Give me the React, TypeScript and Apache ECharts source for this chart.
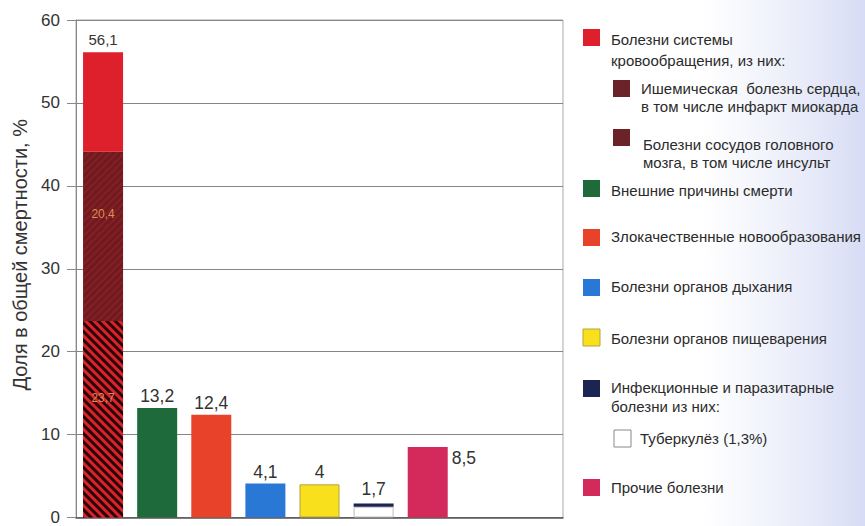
import React, { useEffect, useRef } from "react";
import * as echarts from "echarts";

// ---- data ----
const categories = [
  "Болезни системы кровообращения",
  "Внешние причины смерти",
  "Злокачественные новообразования",
  "Болезни органов дыхания",
  "Болезни органов пищеварения",
  "Инфекционные и паразитарные болезни",
  "Прочие болезни",
  "",
  "",
];
const totals = [56.1, 13.2, 12.4, 4.1, 4.0, 1.7, 8.5];
const ischemic = 23.7; // Ишемическая болезнь сердца
const cerebro = 20.4; // Болезни сосудов головного мозга
const tuberculosis = 1.3; // Туберкулёз
const yTicks = [0, 10, 20, 30, 40, 50, 60];

const legendLabels = [
  "Болезни системы\nкровообращения, из них:",
  "Ишемическая  болезнь сердца,\nв том числе инфаркт миокарда",
  "Болезни сосудов головного\nмозга, в том числе инсульт",
  "Внешние причины смерти",
  "Злокачественные новообразования",
  "Болезни органов дыхания",
  "Болезни органов пищеварения",
  "Инфекционные и паразитарные\nболезни из них:",
  "Туберкулёз (1,3%)",
  "Прочие болезни",
];

// ---- styles ----
const C = {
  circ: "#de1f2c",
  ihd: "#d8222c",
  cereb: "#6e1a1f",
  ext: "#1e6a3a",
  onco: "#e8432a",
  resp: "#2a78d6",
  dig: "#f8e11c",
  inf: "#1c2452",
  tb: "#ffffff",
  other: "#d32a5b",
};
const barColors = [null, C.ext, C.onco, C.resp, C.dig, C.tb, C.other];
const legendColors = [C.circ, "#6b2228", "#6b2228", C.ext, C.onco, C.resp, C.dig, C.inf, "#ffffff", C.other];
// layout for legend: [squareX, squareY, textX, firstLineCenterY, lineHeight]
const legendLayout = [
  [583, 29, 611, 39, 21],
  [613, 80, 641, 88, 18],
  [613, 129, 643, 144, 18],
  [583, 180, 611, 190, 18],
  [583, 229, 611, 236, 18],
  [583, 279, 611, 286, 18],
  [583, 329, 611, 338, 18],
  [583, 380, 611, 387, 19],
  [614, 430, 640, 438, 18],
  [583, 479, 611, 487, 18],
];

const fmt = (v: number) => String(v).replace(".", ",");
const only = (i: number, v: number) => categories.map((_, k) => (k === i ? v : null));

export default function App() {
  const ref = useRef<HTMLDivElement>(null);
  useEffect(() => {
    if (!ref.current) return;
    const chart = echarts.init(ref.current, null, { renderer: "svg" });
    const FONT = "'Liberation Sans', Arial, sans-serif";
    const circRest = Math.round((totals[0] - ischemic - cerebro) * 10) / 10;
    const infRest = Math.round((totals[5] - tuberculosis) * 10) / 10;

    const mainData = categories.map((_, k) => {
      if (k === 0 || k >= totals.length) return null;
      const val = k === 5 ? tuberculosis : totals[k];
      const item: any = {
        value: val,
        itemStyle: {
          color: barColors[k],
          borderColor: k === 4 ? "#b9a23c" : k === 5 ? "#bdbdbd" : undefined,
          borderWidth: k === 4 || k === 5 ? 1 : 0,
        },
      };
      if (k === 5) item.label = { show: false };
      if (k === 6)
        item.label = {
          show: true,
          position: ["100%", 0],
          align: "left",
          verticalAlign: "top",
          offset: [4, 2],
        };
      return item;
    });

    const legendGraphics: any[] = [];
    legendLabels.forEach((lab, i) => {
      const [sx, sy, tx, cy, lh] = legendLayout[i];
      legendGraphics.push({
        type: "rect",
        shape: { x: sx, y: sy, width: 17, height: 17 },
        style: {
          fill: legendColors[i],
          stroke: i === 8 ? "#888" : i === 6 ? "#b9a23c" : null,
          lineWidth: i === 8 || i === 6 ? 1 : 0,
        },
        z: 10,
      });
      legendGraphics.push({
        type: "text",
        x: tx,
        y: cy - lh / 2,
        style: {
          text: lab,
          font: `15px ${FONT}`,
          fill: "#2b2b2b",
          lineHeight: lh,
          verticalAlign: "top",
          align: "left",
        },
        z: 10,
      });
    });

    chart.setOption({
      animation: false,
      backgroundColor: "#ffffff",
      textStyle: { fontFamily: FONT },
      graphic: [
        {
          type: "rect",
          shape: { x: 700, y: 0, width: 165, height: 526 },
          style: {
            fill: new echarts.graphic.LinearGradient(0, 0, 1, 0, [
              { offset: 0, color: "rgba(226,230,246,0)" },
              { offset: 1, color: "rgba(212,218,244,0.95)" },
            ]),
          },
          z: 0,
          silent: true,
        },
        ...legendGraphics,
      ],
      grid: {
        left: 76,
        right: 302,
        top: 20,
        bottom: 5,
        show: true,
        borderColor: "#a9a9a9",
        borderWidth: 1,
        backgroundColor: "transparent",
      },
      xAxis: {
        type: "category",
        data: categories,
        axisLabel: { show: false },
        axisTick: { show: false },
        axisLine: { show: true, lineStyle: { color: "#555", width: 1.5 } },
      },
      yAxis: {
        type: "value",
        min: yTicks[0],
        max: yTicks[yTicks.length - 1],
        interval: 10,
        name: "Доля в общей смертности, %",
        nameLocation: "middle",
        nameGap: 45,
        nameTextStyle: {
          fontSize: 20,
          color: "#333",
          fontFamily: FONT,
          padding: [0, 0, 0, 28],
        },
        axisLine: { show: true, lineStyle: { color: "#888" } },
        axisTick: { show: true, length: 9, lineStyle: { color: "#888" } },
        axisLabel: { fontSize: 17, color: "#333", margin: 16 },
        splitLine: { show: true, lineStyle: { color: "#858585", width: 1 } },
      },
      series: [
        {
          name: legendLabels[1],
          type: "bar",
          stack: "t",
          barWidth: 40,
          data: only(0, ischemic),
          itemStyle: {
            color: C.ihd,
            decal: {
              symbol: "rect",
              dashArrayX: [1, 0],
              dashArrayY: [2.6, 2.6],
              rotation: Math.PI / 4,
              color: "rgba(25,0,0,0.9)",
            },
          },
          label: {
            show: true,
            position: ["50%", 77],
            align: "center",
            verticalAlign: "middle",
            formatter: () => fmt(ischemic),
            color: "#d99058",
            fontSize: 12,
          },
        },
        {
          name: legendLabels[2],
          type: "bar",
          stack: "t",
          data: only(0, cerebro),
          itemStyle: {
            color: C.cereb,
            decal: {
              symbol: "rect",
              dashArrayX: [1, 0],
              dashArrayY: [1.2, 2.4],
              rotation: -Math.PI / 4,
              color: "rgba(150,35,40,0.55)",
            },
          },
          label: {
            show: true,
            position: ["50%", 62],
            align: "center",
            verticalAlign: "middle",
            formatter: () => fmt(cerebro),
            color: "#d99058",
            fontSize: 12,
          },
        },
        {
          name: legendLabels[0],
          type: "bar",
          stack: "t",
          data: only(0, circRest),
          itemStyle: { color: C.circ },
          label: {
            show: true,
            position: "top",
            distance: 5,
            formatter: () => fmt(totals[0]),
            color: "#333",
            fontSize: 15,
          },
        },
        {
          name: "main",
          type: "bar",
          stack: "t",
          data: mainData,
          label: {
            show: true,
            position: "top",
            distance: 3,
            formatter: (p: any) => fmt(totals[p.dataIndex]),
            color: "#333",
            fontSize: 17.5,
          },
        },
        {
          name: legendLabels[7],
          type: "bar",
          stack: "t",
          data: only(5, infRest),
          itemStyle: { color: C.inf },
          label: {
            show: true,
            position: "top",
            distance: 5,
            formatter: () => fmt(totals[5]),
            color: "#333",
            fontSize: 17.5,
          },
        },
      ],
    });
    return () => chart.dispose();
  }, []);
  return (
    <div
      ref={ref}
      style={{ position: "fixed", left: 0, top: 0, width: 865, height: 526 }}
    />
  );
}
